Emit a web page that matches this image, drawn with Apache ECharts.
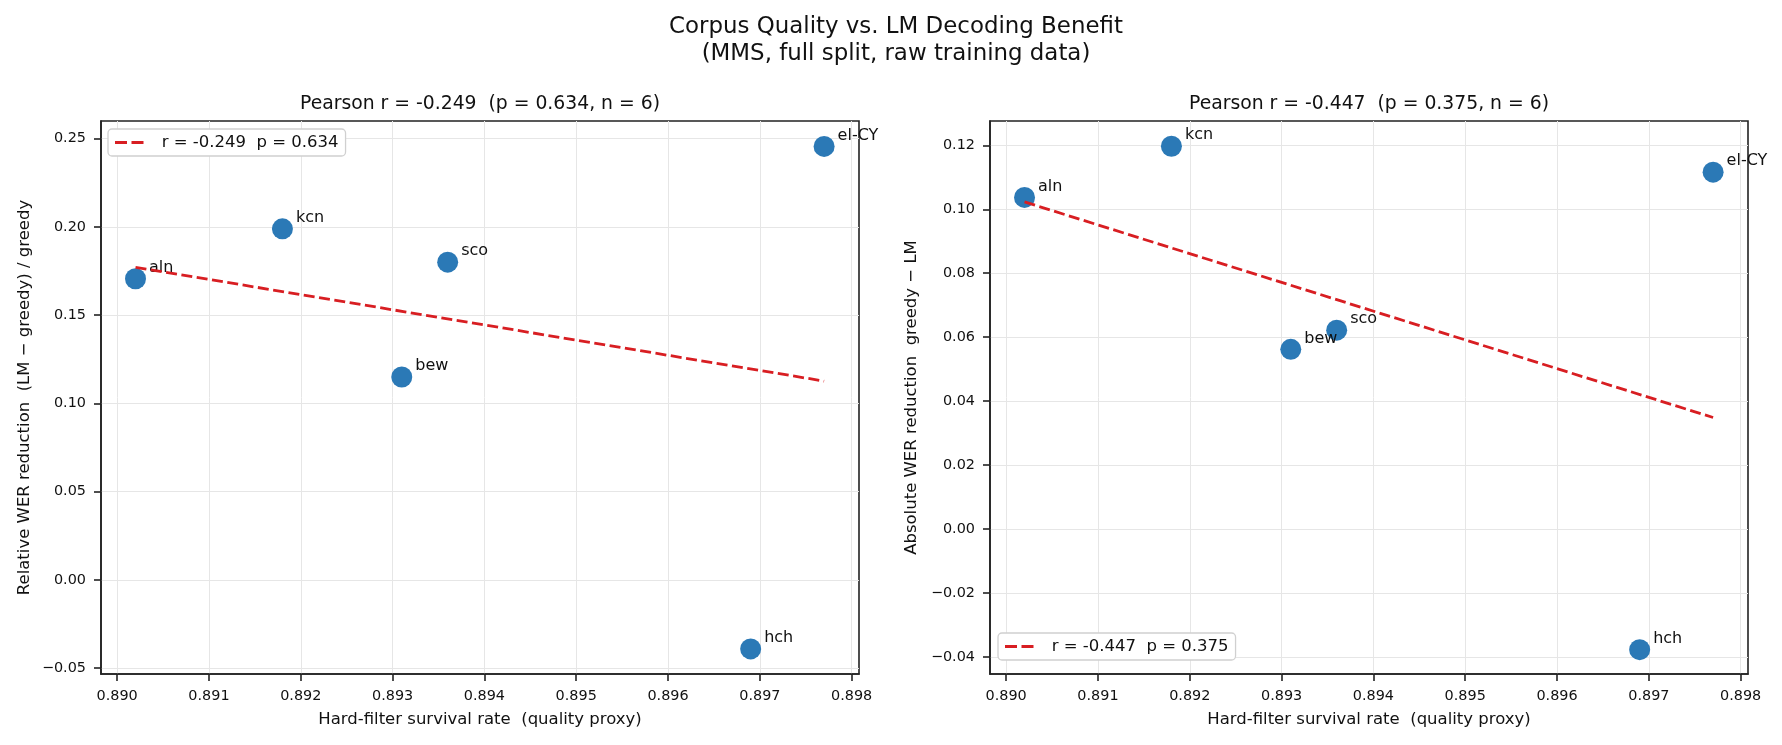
<!DOCTYPE html>
<html>
<head>
<meta charset="utf-8">
<title>Corpus Quality vs. LM Decoding Benefit</title>
<script src="https://cdn.jsdelivr.net/npm/echarts@6/dist/echarts.min.js"></script>
<style>
  html, body { margin: 0; padding: 0; background: #fff; }
  #chart { width: 1782px; height: 745px; }
</style>
</head>
<body>
<div id="chart"></div>
<script>
// values
const langs = ["aln", "kcn", "bew", "sco", "hch", "el-CY"]
const survival = [0.8902, 0.8918, 0.8931, 0.8936, 0.8969, 0.8977]
const relReduction = [0.1706, 0.1989, 0.1149, 0.1800, -0.0392, 0.2456]
const absReduction = [0.1037, 0.1197, 0.0562, 0.0622, -0.0377, 0.1116]

// fitted line end points
const fitX = [0.8902, 0.8977]
const relFit = [0.1771, 0.1126]
const absFit = [0.1023, 0.0349]

const xTicks = [0.890, 0.891, 0.892, 0.893, 0.894, 0.895, 0.896, 0.897, 0.898]
const relTicks = [-0.05, 0, 0.05, 0.10, 0.15, 0.20, 0.25]
const absTicks = [-0.04, -0.02, 0, 0.02, 0.04, 0.06, 0.08, 0.10, 0.12]

const relTitle = "Pearson r = -0.249  (p = 0.634, n = 6)"
const absTitle = "Pearson r = -0.447  (p = 0.375, n = 6)"
const relLegend = "r = -0.249  p = 0.634"
const absLegend = "r = -0.447  p = 0.375"

const FONT = "DejaVu Sans"
const INK = "#111"
const SPINE = "#222"
const BLUE = "#2b79b6"
const RED = "#d81e22"
// two dashes, like the matplotlib legend handle
const DASH_ICON = "path://M0,0h12v3h-12z M16.5,0h12v3h-12z"

const grids = [
  { left: 101, top: 121, width: 758, height: 553 },
  { left: 990, top: 121, width: 758, height: 553 },
]

function fmtY(v) {
  return v.toFixed(2).replace("-", "\u2212")
}

function xAxisFor(i) {
  return {
    type: "value",
    gridIndex: i,
    min: 0.889824,
    max: 0.89808,
    name: "Hard-filter survival rate  (quality proxy)",
    nameLocation: "middle",
    nameGap: 37,
    nameTextStyle: { fontFamily: FONT, fontSize: 16.5, color: INK },
    axisLine: { show: true, onZero: false, lineStyle: { color: SPINE, width: 1.6 } },
    axisTick: { show: true, length: 7, customValues: xTicks, lineStyle: { color: SPINE, width: 1.6 } },
    axisLabel: {
      customValues: xTicks,
      margin: 15,
      fontFamily: FONT,
      fontSize: 14.4,
      color: INK,
      formatter: (v) => v.toFixed(3),
    },
    splitLine: { show: true, lineStyle: { color: "#e6e6e6", width: 1 } },
  }
}

function yAxisFor(i, min, max, ticks, name, gap) {
  return {
    type: "value",
    gridIndex: i,
    min: min,
    max: max,
    name: name,
    nameLocation: "middle",
    nameGap: gap,
    nameTextStyle: { fontFamily: FONT, fontSize: 16.5, color: INK },
    axisLine: { show: true, onZero: false, lineStyle: { color: SPINE, width: 1.6 } },
    axisTick: { show: true, length: 7, customValues: ticks, lineStyle: { color: SPINE, width: 1.6 } },
    axisLabel: {
      customValues: ticks,
      margin: 15,
      fontFamily: FONT,
      fontSize: 14.4,
      color: INK,
      formatter: fmtY,
    },
    splitLine: { show: true, lineStyle: { color: "#e6e6e6", width: 1 } },
  }
}

function points(ys) {
  return langs.map((name, k) => ({ name: name, value: [survival[k], ys[k]] }))
}

function scatterSeries(i, ys) {
  return {
    type: "scatter",
    xAxisIndex: i,
    yAxisIndex: i,
    data: points(ys),
    symbolSize: 21,
    itemStyle: { color: BLUE, opacity: 1 },
    label: {
      show: true,
      formatter: "{b}",
      position: "right",
      distance: 3,
      offset: [0, -11],
      fontFamily: FONT,
      fontSize: 16,
      color: INK,
    },
    emphasis: { disabled: true },
    z: 2,
  }
}

function fitSeries(i, name, ys) {
  return {
    name: name,
    type: "line",
    xAxisIndex: i,
    yAxisIndex: i,
    data: fitX.map((x, k) => [x, ys[k]]),
    symbol: "none",
    showSymbol: false,
    lineStyle: { color: RED, width: 2.8, type: [11, 4.5] },
    itemStyle: { color: RED },
    emphasis: { disabled: true },
    z: 3,
  }
}

function legendFor(name, left, top) {
  return {
    data: [{ name: name, icon: DASH_ICON }],
    left: left,
    top: top,
    orient: "vertical",
    selectedMode: false,
    backgroundColor: "#fff",
    borderColor: "#d0d0d0",
    borderWidth: 1.3,
    borderRadius: 4,
    padding: [5, 7, 5, 7],
    itemWidth: 29,
    itemHeight: 3,
    itemStyle: { color: RED },
    textStyle: { fontFamily: FONT, fontSize: 16.5, color: INK, padding: [0, 0, 0, 13] },
  }
}

const chart = echarts.init(document.getElementById("chart"), null, { renderer: "canvas" })

const option = {
  backgroundColor: "#fff",
  animation: false,
  title: [
    {
      text: "Corpus Quality vs. LM Decoding Benefit\n(MMS, full split, raw training data)",
      left: 896,
      top: 13.5,
      padding: 0,
      textAlign: "center",
      textStyle: { fontFamily: FONT, fontSize: 22.9, fontWeight: "normal", color: INK, lineHeight: 27 },
    },
    {
      text: relTitle,
      left: 480,
      top: 95,
      padding: 0,
      textAlign: "center",
      textStyle: { fontFamily: FONT, fontSize: 18.8, fontWeight: "normal", color: INK },
    },
    {
      text: absTitle,
      left: 1369,
      top: 95,
      padding: 0,
      textAlign: "center",
      textStyle: { fontFamily: FONT, fontSize: 18.8, fontWeight: "normal", color: INK },
    },
  ],
  legend: [legendFor(relLegend, 108, 129), legendFor(absLegend, 998, 633)],
  grid: grids.map((g) => Object.assign({ show: true, borderColor: SPINE, borderWidth: 1.6, backgroundColor: "transparent" }, g)),
  xAxis: [xAxisFor(0), xAxisFor(1)],
  yAxis: [
    yAxisFor(0, -0.0534, 0.26, relTicks, "Relative WER reduction  (LM \u2212 greedy) / greedy", 68),
    yAxisFor(1, -0.0453, 0.1276, absTicks, "Absolute WER reduction  greedy \u2212 LM", 70),
  ],
  series: [
    scatterSeries(0, relReduction),
    fitSeries(0, relLegend, relFit),
    scatterSeries(1, absReduction),
    fitSeries(1, absLegend, absFit),
  ],
}

chart.setOption(option)
</script>
</body>
</html>
